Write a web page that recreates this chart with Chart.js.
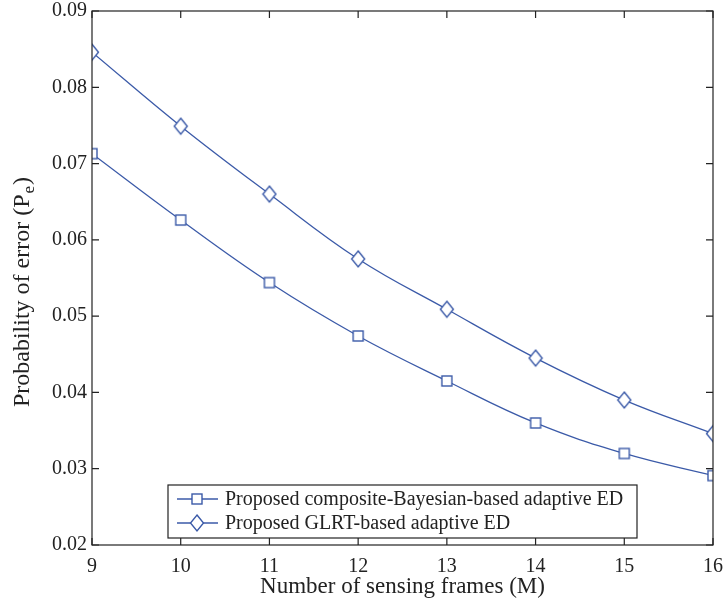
<!DOCTYPE html>
<html>
<head>
<meta charset="utf-8">
<script src="https://cdn.jsdelivr.net/npm/chart.js@4.4.0/dist/chart.umd.min.js"></script>
<style>
  html, body { margin: 0; padding: 0; background: #fff; }
  #wrap { width: 725px; height: 602px; }
</style>
</head>
<body>
<div id="wrap"><canvas id="myChart" width="725" height="602"></canvas></div>
<script>
// data
var frames = [9, 10, 11, 12, 13, 14, 15, 16];
var compositeBayes = [0.0713, 0.0626, 0.0544, 0.0474, 0.0415, 0.0360, 0.0320, 0.0291];
var glrtBased = [0.0846, 0.0749, 0.0660, 0.0575, 0.0509, 0.0445, 0.0390, 0.0346];
var seriesLabels = ['Proposed composite-Bayesian-based adaptive ED', 'Proposed GLRT-based adaptive ED'];
var yTicks = [0.02, 0.03, 0.04, 0.05, 0.06, 0.07, 0.08, 0.09];

var blue = '#3b5aa8';
var serif = '"Liberation Serif", "Times New Roman", serif';

// marker images (square and tall diamond like the MATLAB ones)
function makeSquare() {
    var c = document.createElement('canvas');
    c.width = 14; c.height = 14;
    var g = c.getContext('2d');
    g.strokeStyle = blue; g.lineWidth = 1.4;
    g.fillStyle = '#fff';
    g.fillRect(2, 2, 10, 10);
    g.strokeRect(2, 2, 10, 10);
    return c;
}
function makeDiamond() {
    var c = document.createElement('canvas');
    c.width = 16; c.height = 20;
    var g = c.getContext('2d');
    g.strokeStyle = blue; g.lineWidth = 1.4;
    g.fillStyle = '#fff';
    g.beginPath();
    g.moveTo(8, 2); g.lineTo(14.5, 10); g.lineTo(8, 18); g.lineTo(1.5, 10);
    g.closePath();
    g.fill(); g.stroke();
    return c;
}
var squareImg = makeSquare();
var diamondImg = makeDiamond();

// box, inward ticks, y title with subscript, legend
var framePlugin = {
    id: 'framePlugin',
    afterDraw: function(chart) {
        var ctx = chart.ctx;
        var a = chart.chartArea;
        var xs = chart.scales.x, ys = chart.scales.y;
        ctx.save();
        ctx.strokeStyle = '#222';
        ctx.lineWidth = 1.2;
        ctx.strokeRect(a.left, a.top, a.right - a.left, a.bottom - a.top);
        var t = 7;
        ctx.beginPath();
        frames.forEach(function(v) {
            var px = xs.getPixelForValue(v);
            ctx.moveTo(px, a.bottom); ctx.lineTo(px, a.bottom - t);
            ctx.moveTo(px, a.top); ctx.lineTo(px, a.top + t);
        });
        yTicks.forEach(function(v) {
            var py = ys.getPixelForValue(v);
            ctx.moveTo(a.left, py); ctx.lineTo(a.left + t, py);
            ctx.moveTo(a.right, py); ctx.lineTo(a.right - t, py);
        });
        ctx.stroke();

        // y axis title
        ctx.fillStyle = '#222';
        ctx.translate(29, 292);
        ctx.rotate(-Math.PI / 2);
        ctx.textBaseline = 'alphabetic';
        var main = 'Probability of error (P';
        var sub = 'e';
        ctx.font = '17px ' + serif;
        var wSub = ctx.measureText(sub).width;
        ctx.font = '24px ' + serif;
        var wMain = ctx.measureText(main).width;
        var wClose = ctx.measureText(')').width;
        var total = wMain + wSub + 2 + wClose;
        var x0 = -total / 2;
        ctx.textAlign = 'left';
        ctx.fillText(main, x0, 0);
        ctx.font = '17px ' + serif;
        ctx.fillText(sub, x0 + wMain + 1, 5);
        ctx.font = '24px ' + serif;
        ctx.fillText(')', x0 + wMain + wSub + 2, 0);
        ctx.restore();

        // legend box
        ctx.save();
        var lx = 168, ly = 485, lw = 469, lh = 53;
        ctx.fillStyle = '#fff';
        ctx.fillRect(lx, ly, lw, lh);
        ctx.strokeStyle = '#222';
        ctx.lineWidth = 1.2;
        ctx.strokeRect(lx, ly, lw, lh);
        var rows = [499, 523];
        var imgs = [squareImg, diamondImg];
        ctx.font = '20px ' + serif;
        ctx.textBaseline = 'middle';
        ctx.textAlign = 'left';
        for (var i = 0; i < 2; i++) {
            ctx.strokeStyle = blue;
            ctx.lineWidth = 1.3;
            ctx.beginPath();
            ctx.moveTo(177, rows[i]); ctx.lineTo(218, rows[i]);
            ctx.stroke();
            var im = imgs[i];
            ctx.drawImage(im, 197 - im.width / 2, rows[i] - im.height / 2);
            ctx.fillStyle = '#222';
            ctx.fillText(seriesLabels[i], 225, rows[i] + 1);
        }
        ctx.restore();
    }
};

document.addEventListener("DOMContentLoaded", function() {
    var ctx = document.getElementById('myChart').getContext('2d');
    new Chart(ctx, {
        type: 'line',
        data: {
            labels: frames,
            datasets: [{
                label: seriesLabels[0],
                data: frames.map(function(f, i) { return {x: f, y: compositeBayes[i]}; }),
                borderColor: blue,
                borderWidth: 1.3,
                tension: 0.4,
                pointStyle: squareImg,
                fill: false
            }, {
                label: seriesLabels[1],
                data: frames.map(function(f, i) { return {x: f, y: glrtBased[i]}; }),
                borderColor: blue,
                borderWidth: 1.3,
                tension: 0.4,
                pointStyle: diamondImg,
                fill: false
            }]
        },
        options: {
            responsive: false,
            animation: false,
            layout: { padding: { left: 0, top: 11, right: 12, bottom: 0 } },
            plugins: {
                legend: { display: false },
                tooltip: { enabled: false }
            },
            scales: {
                x: {
                    type: 'linear',
                    min: 9, max: 16,
                    ticks: { stepSize: 1, color: '#222', font: { family: serif, size: 20 }, padding: 2, maxRotation: 0 },
                    grid: { display: false },
                    border: { display: false },
                    title: { display: true, text: 'Number of sensing frames (M)', color: '#222', font: { family: serif, size: 23 }, padding: { top: 0, bottom: 1 } },
                    afterFit: function(s) { s.height = 57; s.paddingLeft = 0; s.paddingRight = 0; }
                },
                y: {
                    min: 0.02, max: 0.09,
                    ticks: {
                        stepSize: 0.01, color: '#222', font: { family: serif, size: 20 }, padding: 5,
                        callback: function(v) { return v.toFixed(2); }
                    },
                    grid: { display: false, tickLength: 0 },
                    border: { display: false },
                    afterFit: function(s) { s.width = 92; s.paddingTop = 0; s.paddingBottom = 0; }
                }
            }
        },
        plugins: [framePlugin]
    });
});
</script>
</body>
</html>
